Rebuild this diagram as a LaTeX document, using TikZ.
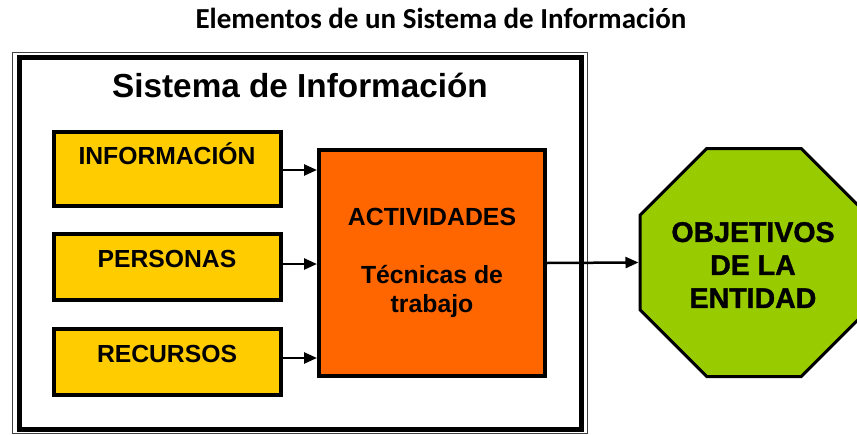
\documentclass[tikz,border=0pt]{standalone}
\usepackage{fontspec}
\setmainfont{Liberation Sans}
\newfontfamily\titlefont{Carlito}
\newfontfamily\heavyfont[FakeBold=1.2]{Liberation Sans Bold}
\usetikzlibrary{arrows.meta,shapes.geometric,calc}
\definecolor{yel}{HTML}{FFCC00}
\definecolor{org}{HTML}{FF6600}
\definecolor{grn}{HTML}{99CC00}
\begin{document}
\begin{tikzpicture}[x=1pt,y=-1pt,
  ybox/.style={draw,line width=4pt,fill=yel,minimum width=227pt,minimum height=66pt,inner sep=0pt,outer sep=2pt},
  ytext/.style={anchor=base,font=\bfseries\fontsize{24.7}{29}\selectfont,inner sep=0pt},
  obox/.style={draw,line width=4pt,fill=org,minimum width=226pt,minimum height=226pt,inner sep=0pt,outer sep=2pt,align=center,font=\bfseries\fontsize{24.8}{29}\selectfont},
  octo/.style={draw,line width=3pt,fill=grn,regular polygon,regular polygon sides=8,minimum size=246.8pt,inner sep=0pt,outer sep=1.5pt},
  arr/.style={line width=2.5pt,-{Triangle[length=13pt,width=11pt]}}
]
\useasboundingbox (0,0) rectangle (857,434);
% title
\node[anchor=base,inner sep=0pt,font=\titlefont\bfseries\fontsize{29}{33}\selectfont] (title) at (441,28) {Elementos de un Sistema de Información};
% frame
\draw[line width=1pt,black!75] (12.5,52.5) rectangle (587,433.5);
\draw[line width=5pt] (19.5,57.5) rectangle (581.5,429.5);
\node[anchor=base,inner sep=0pt,font=\bfseries\fontsize{33.3}{38}\selectfont] (sys) at (300,97) {Sistema de Información};
% input boxes
\node[ybox,minimum height=74pt] (info) at (167.5,169) {};
\node[ybox] (pers) at (167.5,267) {};
\node[ybox] (recu) at (167.5,362) {};
\node[ytext] (infot) at (167,164) {INFORMACIÓN};
\node[ytext] (perst) at (167,267) {PERSONAS};
\node[ytext] (recut) at (167,362) {RECURSOS};
% activities
\node[obox] (act) at (432,263) {ACTIVIDADES\\[29pt]Técnicas de\\trabajo};
% objectives
\node[octo] (obj) at (754,262.5) {};
\node[align=center,inner sep=0pt,font=\heavyfont\fontsize{28.5}{33}\selectfont] (objt) at (753,265) {OBJETIVOS\\DE LA\\ENTIDAD};
% connectors
\draw[arr] ([yshift=-1pt]info.east) -- ([yshift=-1pt]info.east -| act.west);
\draw[arr] ([yshift=3pt]pers.east) -- ([yshift=3pt]pers.east -| act.west);
\draw[arr] ([yshift=4pt]recu.east) -- ([yshift=4pt]recu.east -| act.west);
\draw[arr] (act.east) -- (obj.west);
\end{tikzpicture}
\end{document}
